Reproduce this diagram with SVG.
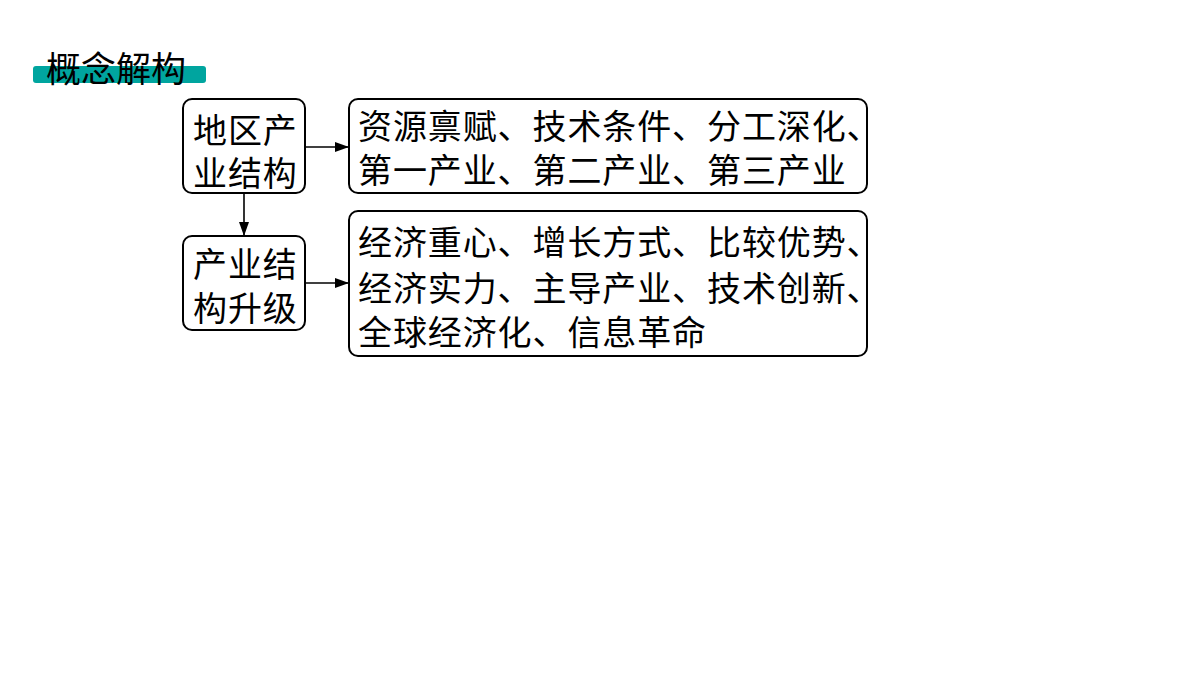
<svg xmlns="http://www.w3.org/2000/svg" width="1200" height="675" viewBox="0 0 1200 675">
<style>
.box{fill:#fff;stroke:#000;stroke-width:2}
.t{font-family:"Noto Sans CJK SC","Noto Sans CJK JP",sans-serif;font-size:34px;letter-spacing:0.9px;fill:#000;dominant-baseline:central}
.conn{stroke:#000;stroke-width:1.6;fill:none}
</style>
<defs>
<marker id="ah" viewBox="0 0 14 10" refX="14" refY="5" markerWidth="14" markerHeight="10" markerUnits="userSpaceOnUse" orient="auto">
<path d="M0,0 L14,5 L0,10 Z" fill="#000"/>
</marker>
</defs>
<rect width="1200" height="675" fill="#fff"/>
<g id="title">
<rect x="33" y="66" width="173" height="17" rx="3" fill="#00a59f"/>
<text class="t" x="46" y="66" style="font-size:35px;letter-spacing:0">概念解构</text>
</g>
<g id="connectors">
<line class="conn" x1="305" y1="147" x2="349" y2="147" marker-end="url(#ah)"/>
<line class="conn" x1="305" y1="283" x2="349" y2="283" marker-end="url(#ah)"/>
<line class="conn" x1="244" y1="193" x2="244" y2="236" marker-end="url(#ah)"/>
</g>
<g id="n1">
<rect class="box" x="183" y="99" width="122" height="94" rx="9"/>
<text class="t" x="193" y="128">地区产</text>
<text class="t" x="193" y="171">业结构</text>
</g>
<g id="n2">
<rect class="box" x="183" y="236" width="122" height="94" rx="9"/>
<text class="t" x="193" y="262">产业结</text>
<text class="t" x="193" y="306">构升级</text>
</g>
<g id="n3">
<rect class="box" x="349" y="99" width="518" height="94" rx="9"/>
<text class="t" x="358" y="124">资源禀赋、技术条件、分工深化、</text>
<text class="t" x="358" y="168">第一产业、第二产业、第三产业</text>
</g>
<g id="n4">
<rect class="box" x="349" y="211" width="518" height="145" rx="9"/>
<text class="t" x="358" y="240">经济重心、增长方式、比较优势、</text>
<text class="t" x="358" y="286">经济实力、主导产业、技术创新、</text>
<text class="t" x="358" y="330">全球经济化、信息革命</text>
</g>
</svg>
